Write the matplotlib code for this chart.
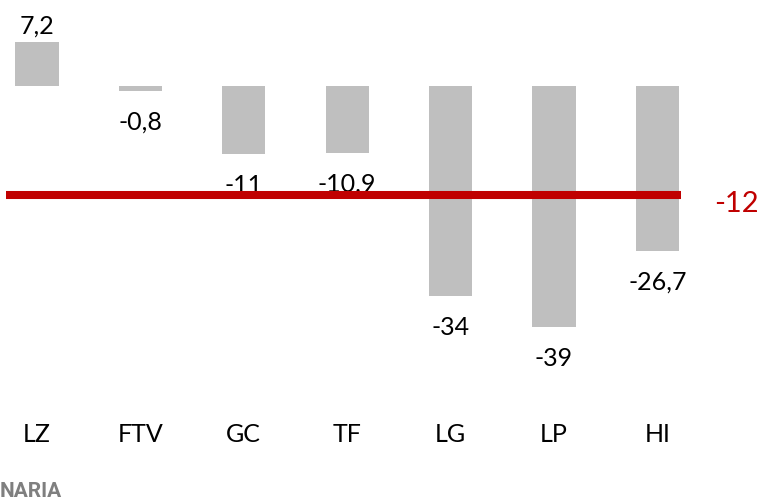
import matplotlib
matplotlib.use("Agg")
import matplotlib.pyplot as plt
import matplotlib.transforms as mtransforms
import numpy as np

categories = ["LZ", "FTV", "GC", "TF", "LG", "LP", "HI"]
values = [7.2, -0.8, -11, -10.9, -34, -39, -26.7]
value_labels = ["7,2", "-0,8", "-11", "-10.9", "-34", "-39", "-26,7"]
avg_value = -12
avg_label = "-12"
footer_text = "NARIA"

W, H = 762, 503
fig = plt.figure(figsize=(W / 100, H / 100), dpi=100)
ax = fig.add_axes([0, 0, 1, 1])
ax.set_axis_off()

FONT = ["Lato", "DejaVu Sans"]
BAR = "#BFBFBF"
RED = "#C00000"

# layout (pixel based)
px_per_cat = 103.4
first_center_px = 37
zero_px = 86
px_per_unit = 6.18

x0 = -first_center_px / px_per_cat
ax.set_xlim(x0, x0 + W / px_per_cat)
ax.set_ylim(zero_px / px_per_unit - H / px_per_unit, zero_px / px_per_unit)

x = np.arange(len(categories))
ax.bar(x, values, width=0.416, color=BAR, zorder=2)

for xi, v, lab in zip(x, values, value_labels):
    if v >= 0:
        ax.annotate(lab, xy=(xi, v), xytext=(0, 6.0), textcoords="offset points",
                    ha="center", va="baseline", fontsize=18, family=FONT, color="black")
    else:
        ax.annotate(lab, xy=(xi, v), xytext=(0, -28.0), textcoords="offset points",
                    ha="center", va="baseline", fontsize=18, family=FONT, color="black")

trans = mtransforms.blended_transform_factory(ax.transData, ax.transAxes)
for xi, c in zip(x, categories):
    ax.text(xi, 1 - 442 / H, c, transform=trans, ha="center", va="baseline",
            fontsize=18, family=FONT, color="black")

# secondary axis for the average line
ax2 = fig.add_axes([0, 0, 1, 1], sharex=ax)
ax2.set_axis_off()
ax2.patch.set_alpha(0)
line_px = 195
top2 = avg_value + line_px / px_per_unit
ax2.set_ylim(top2 - H / px_per_unit, top2)
x_start, x_end = 6 / W, 681 / W
ax2.axhline(avg_value, xmin=x_start, xmax=x_end, color=RED, linewidth=5.8,
            solid_capstyle="butt", zorder=3)
blend2 = mtransforms.blended_transform_factory(ax2.transAxes, ax2.transData)
ax2.annotate(avg_label, xy=(x_end, avg_value), xycoords=blend2,
             xytext=(55 * 0.72, -9 * 0.72), textcoords="offset points",
             ha="center", va="center", fontsize=21, family=FONT, color=RED)

fig.text(0, 1 - 497 / H, footer_text, ha="left", va="baseline", fontsize=15,
         fontweight="bold", family=["Liberation Sans Narrow", "Roboto", "DejaVu Sans"],
         color="#7F7F7F")

fig.savefig("out.png", dpi=100)
